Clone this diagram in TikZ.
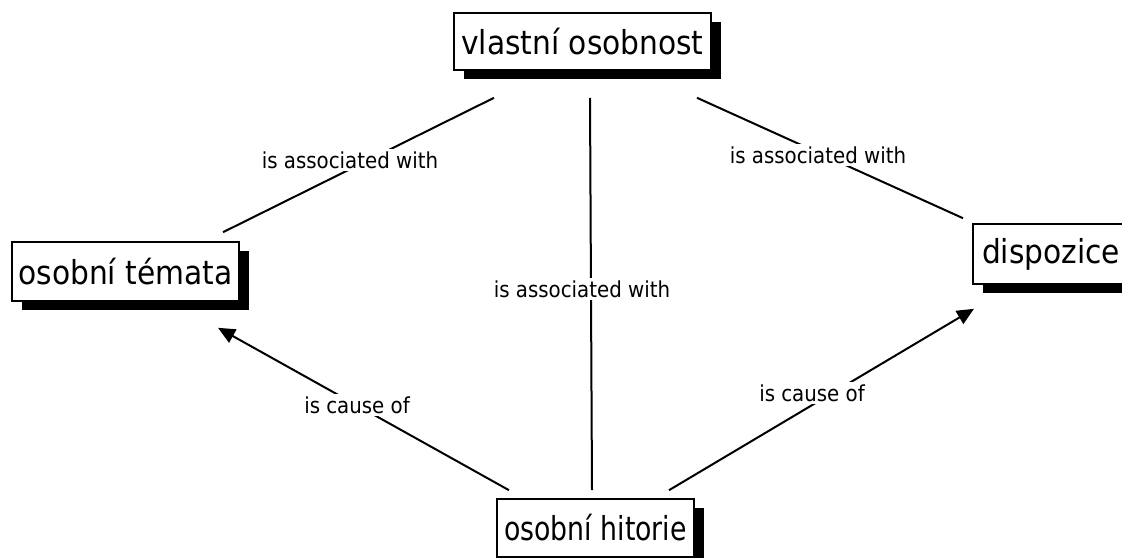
\documentclass[tikz,border=0pt]{standalone}
\usepackage{fontspec}
\setmainfont{DejaVu Sans Condensed}
\usetikzlibrary{arrows.meta,shadows,calc}

\tikzset{
  concept/.style={draw=black, line width=1.6pt, fill=white, inner sep=0pt,
    font=\fontsize{33}{38}\selectfont,
    drop shadow={shadow xshift=10pt, shadow yshift=-9pt, opacity=1, fill=black}},
  linklabel/.style={fill=white, inner sep=2pt, font=\fontsize{22}{26}\selectfont},
  conn/.style={line width=2pt, draw=black},
  causal/.style={conn, -{Triangle[length=17pt,width=15pt]}}
}

\begin{document}
\begin{tikzpicture}[x=1pt, y=-1pt]
  \useasboundingbox[fill=white] (0,0) rectangle (1122,557);

  % concepts
  \node[concept, minimum width=257pt, minimum height=57pt] (vo) at (582.5,41.5) {vlastní osobnost};
  \node[concept, minimum width=227pt, minimum height=59pt] (ot) at (125.5,271.5) {osobní témata};
  \node[concept, minimum width=156pt, minimum height=60pt] (di) at (1051,254) {dispozice};
  \node[concept, minimum width=197pt, minimum height=58pt] (oh) at (595.5,528) {\scalebox{0.9}[1]{osobní hitorie}};

  % association links
  \draw[conn] ($(vo.south)+(-88.5,27)$) -- ($(ot.north)+(97.5,-9)$);
  \draw[conn] ($(vo.south)+(7.5,27)$) -- ($(oh.north)+(-3.5,-8)$);
  \draw[conn] ($(vo.south)+(114.5,27)$) -- ($(di.north)+(-88,-5)$);

  % causal links
  \draw[causal] ($(oh.north)+(-86.5,-8)$) -- ($(ot.south)+(92.5,26)$);
  \draw[causal] ($(oh.north)+(73.5,-8)$) -- ($(di.south)+(-77,24)$);

  % link labels
  \node[linklabel] (l1) at (350,160) {is associated with};
  \node[linklabel] (l2) at (582,289) {is associated with};
  \node[linklabel] (l3) at (818,155) {is associated with};
  \node[linklabel] (l4) at (357,405) {is cause of};
  \node[linklabel] (l5) at (812,393) {is cause of};
\end{tikzpicture}
\end{document}
